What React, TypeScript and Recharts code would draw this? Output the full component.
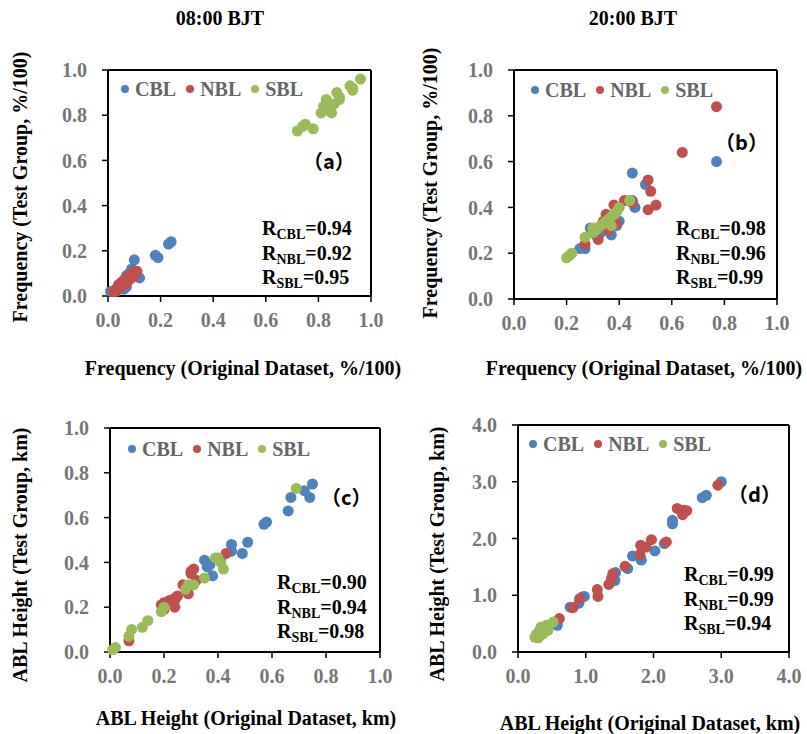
import React from "react";
import { ScatterChart, Scatter, XAxis, YAxis, Legend, ReferenceLine } from "recharts";

type Pt = [number, number];

const seriesNames = ["CBL", "NBL", "SBL"];
const seriesColors = ["#4F81BD", "#C0504D", "#9BBB59"];

const freqTicks = [0, 0.2, 0.4, 0.6, 0.8, 1.0];
const heightTicksD = [0, 1, 2, 3, 4];

// (a) 08:00 BJT frequency
const freq08Cbl: Pt[] = [
  [0.01, 0.02], [0.03, 0.03], [0.04, 0.03], [0.05, 0.04], [0.06, 0.03], [0.06, 0.05], [0.07, 0.04],
  [0.07, 0.06], [0.07, 0.09], [0.08, 0.10], [0.09, 0.12], [0.10, 0.16], [0.12, 0.08], [0.18, 0.18],
  [0.19, 0.17], [0.23, 0.23], [0.24, 0.24],
];
const freq08Nbl: Pt[] = [
  [0.02, 0.02], [0.03, 0.02], [0.03, 0.03], [0.04, 0.04], [0.04, 0.05], [0.05, 0.04], [0.05, 0.06],
  [0.06, 0.05], [0.06, 0.07], [0.07, 0.06], [0.07, 0.08], [0.08, 0.07], [0.08, 0.09], [0.09, 0.08],
  [0.09, 0.10], [0.10, 0.11], [0.11, 0.11], [0.10, 0.09],
];
const freq08Sbl: Pt[] = [
  [0.72, 0.73], [0.74, 0.75], [0.75, 0.76], [0.78, 0.74], [0.81, 0.81], [0.83, 0.87], [0.82, 0.84],
  [0.84, 0.82], [0.85, 0.81], [0.87, 0.90], [0.88, 0.88], [0.86, 0.85], [0.88, 0.87], [0.92, 0.93],
  [0.93, 0.91], [0.93, 0.92], [0.96, 0.96],
];

// (b) 20:00 BJT frequency
const freq20Cbl: Pt[] = [
  [0.77, 0.60], [0.45, 0.55], [0.50, 0.50], [0.46, 0.40], [0.45, 0.43], [0.40, 0.34], [0.39, 0.32],
  [0.37, 0.28], [0.29, 0.31], [0.31, 0.28], [0.30, 0.30], [0.27, 0.22], [0.25, 0.22], [0.33, 0.29],
  [0.35, 0.32], [0.36, 0.35],
];
const freq20Nbl: Pt[] = [
  [0.77, 0.84], [0.64, 0.64], [0.51, 0.52], [0.52, 0.47], [0.54, 0.41], [0.51, 0.39], [0.42, 0.43],
  [0.44, 0.43], [0.45, 0.42], [0.38, 0.41], [0.35, 0.37], [0.34, 0.34], [0.36, 0.30], [0.39, 0.33],
  [0.33, 0.32], [0.32, 0.26], [0.27, 0.24], [0.37, 0.36],
];
const freq20Sbl: Pt[] = [
  [0.44, 0.43], [0.40, 0.40], [0.39, 0.38], [0.38, 0.37], [0.37, 0.36], [0.36, 0.35], [0.35, 0.34],
  [0.34, 0.33], [0.33, 0.32], [0.32, 0.31], [0.31, 0.30], [0.30, 0.31], [0.37, 0.32], [0.27, 0.27],
  [0.22, 0.20], [0.20, 0.18], [0.21, 0.19], [0.30, 0.29],
];

// (c) 08:00 BJT ABL height
const abl08Cbl: Pt[] = [
  [0.75, 0.75], [0.72, 0.72], [0.74, 0.69], [0.67, 0.69], [0.66, 0.63], [0.58, 0.58], [0.57, 0.57],
  [0.51, 0.49], [0.49, 0.44], [0.45, 0.48], [0.45, 0.45], [0.35, 0.41], [0.36, 0.38], [0.38, 0.34],
  [0.41, 0.41], [0.24, 0.23], [0.37, 0.39],
];
const abl08Nbl: Pt[] = [
  [0.43, 0.44], [0.31, 0.37], [0.30, 0.35], [0.32, 0.32], [0.29, 0.26], [0.27, 0.30], [0.25, 0.25],
  [0.24, 0.24], [0.22, 0.23], [0.20, 0.22], [0.19, 0.21], [0.20, 0.19], [0.24, 0.20], [0.07, 0.05],
  [0.30, 0.36],
];
const abl08Sbl: Pt[] = [
  [0.69, 0.73], [0.40, 0.42], [0.39, 0.42], [0.41, 0.40], [0.42, 0.37], [0.35, 0.33], [0.31, 0.30],
  [0.29, 0.30], [0.28, 0.28], [0.19, 0.18], [0.20, 0.20], [0.14, 0.14], [0.12, 0.11], [0.08, 0.10],
  [0.07, 0.07], [0.02, 0.02], [0.01, 0.01],
];

// (d) 20:00 BJT ABL height
const abl20Cbl: Pt[] = [
  [3.00, 3.00], [2.78, 2.76], [2.72, 2.72], [2.28, 2.32], [2.28, 2.26], [2.16, 1.91], [2.02, 1.78],
  [1.81, 1.65], [1.69, 1.69], [1.62, 1.47], [1.44, 1.40], [1.43, 1.26], [0.95, 0.97], [0.98, 0.98],
  [0.90, 0.86], [0.77, 0.79], [0.58, 0.47], [1.82, 1.62],
];
const abl20Nbl: Pt[] = [
  [2.95, 2.94], [2.35, 2.53], [2.44, 2.50], [2.49, 2.49], [2.43, 2.42], [1.97, 1.98], [2.19, 1.94],
  [1.81, 1.88], [1.89, 1.85], [1.80, 1.72], [1.58, 1.51], [1.40, 1.38], [1.34, 1.19], [1.17, 1.10],
  [1.18, 0.98], [0.91, 0.94], [0.81, 0.78], [0.61, 0.59], [1.38, 1.30],
];
const abl20Sbl: Pt[] = [
  [0.52, 0.53], [0.42, 0.47], [0.34, 0.44], [0.32, 0.38], [0.27, 0.31], [0.25, 0.26], [0.30, 0.25],
  [0.37, 0.32], [0.44, 0.38], [0.29, 0.27], [0.35, 0.35], [0.40, 0.42],
];

const rA = ["0.94", "0.92", "0.95"];
const rB = ["0.98", "0.96", "0.99"];
const rC = ["0.90", "0.94", "0.98"];
const rD = ["0.99", "0.99", "0.94"];

const SERIF = '"Liberation Serif", "Times New Roman", serif';
const GRAY = "#767676";

const tickStyle = { fill: GRAY, fontSize: 20, fontWeight: 700, fontFamily: SERIF };

const renderLegend = () => (
  <div style={{ display: "flex", alignItems: "center" }}>
    {seriesNames.map((name, i) => (
      <span key={name} style={{ display: "flex", alignItems: "center", marginRight: 10 }}>
        <span style={{ width: 8, height: 8, borderRadius: "50%", background: seriesColors[i], marginRight: 6 }} />
        <span style={{ color: "#666", fontFamily: SERIF, fontWeight: 700, fontSize: 20, lineHeight: "20px" }}>{name}</span>
      </span>
    ))}
  </div>
);

// dot marker, a bit larger than the default symbol
const dot = (color: string) => (props: any) => <circle cx={props.cx} cy={props.cy} r={5.5} fill={color} />;

interface PanelProps {
  left: number;
  top: number;
  width: number;
  height: number;
  margin: { top: number; right: number; bottom: number; left: number };
  max: number;
  ticks: number[];
  series: Pt[][];
  legendPos: { left: number; top: number };
}

function Panel({ left, top, width, height, margin, max, ticks, series, legendPos }: PanelProps) {
  return (
    <div style={{ position: "absolute", left, top }}>
      <ScatterChart width={width} height={height} margin={margin}>
        <XAxis
          type="number"
          dataKey="x"
          domain={[0, max]}
          ticks={ticks}
          tickFormatter={(v: number) => v.toFixed(1)}
          axisLine={{ stroke: "#000", strokeWidth: 2 }}
          tickLine={{ stroke: "#000", strokeWidth: 1.5 }}
          tickSize={6}
          tickMargin={11}
          tick={tickStyle}
          height={40}
          interval={0}
        />
        <YAxis
          type="number"
          dataKey="y"
          domain={[0, max]}
          ticks={ticks}
          tickFormatter={(v: number) => v.toFixed(1)}
          axisLine={{ stroke: "#000", strokeWidth: 2 }}
          tickLine={{ stroke: "#000", strokeWidth: 1.5 }}
          tickSize={6}
          tickMargin={15}
          tick={tickStyle}
          width={60}
          interval={0}
        />
        <ReferenceLine y={max} stroke="#000" strokeWidth={2} />
        <ReferenceLine x={max} stroke="#000" strokeWidth={2} />
        <Legend
          content={renderLegend}
          layout="horizontal"
          verticalAlign="middle"
          align="center"
          wrapperStyle={{ left: legendPos.left, top: legendPos.top, width: "auto" }}
        />
        {series.map((pts, i) => (
          <Scatter
            key={seriesNames[i]}
            name={seriesNames[i]}
            data={pts.map(([x, y]) => ({ x, y }))}
            fill={seriesColors[i]}
            shape={dot(seriesColors[i])}
            isAnimationActive={false}
          />
        ))}
      </ScatterChart>
    </div>
  );
}

function RText({ left, top, values }: { left: number; top: number; values: string[] }) {
  return (
    <div style={{ position: "absolute", left, top, fontFamily: SERIF, fontWeight: 700, fontSize: 20, lineHeight: "24.5px", color: "#000" }}>
      {seriesNames.map((name, i) => (
        <div key={name} style={{ whiteSpace: "nowrap" }}>
          R<span style={{ fontSize: 14, verticalAlign: "-4px", lineHeight: 0 }}>{name}</span>={values[i]}
        </div>
      ))}
    </div>
  );
}

function Tag({ left, top, text }: { left: number; top: number; text: string }) {
  return (
    <div style={{ position: "absolute", left, top, fontFamily: '"Noto Sans CJK SC", sans-serif', fontWeight: 700, fontSize: 20, lineHeight: "20px", color: "#000", whiteSpace: "nowrap" }}>
      {text}
    </div>
  );
}

function Title({ cx, cy, text, rotate }: { cx: number; cy: number; text: string; rotate?: boolean }) {
  return (
    <div
      style={{
        position: "absolute",
        left: cx,
        top: cy,
        transform: `translate(-50%, -50%)${rotate ? " rotate(-90deg)" : ""}`,
        fontFamily: SERIF,
        fontWeight: 700,
        fontSize: 20,
        lineHeight: "22px",
        whiteSpace: "nowrap",
        color: "#000",
      }}
    >
      {text}
    </div>
  );
}

export default function App() {
  return (
    <div style={{ position: "absolute", left: 0, top: 0, width: 807, height: 734, background: "#fff", overflow: "hidden" }}>
      <Title cx={220} cy={18} text="08:00 BJT" />
      <Title cx={633} cy={18} text="20:00 BJT" />

      <Panel
        left={0} top={0} width={400} height={380}
        margin={{ top: 70, right: 29, bottom: 44, left: 48 }}
        max={1} ticks={freqTicks}
        series={[freq08Cbl, freq08Nbl, freq08Sbl]}
        legendPos={{ left: 121, top: 79 }}
      />
      <Panel
        left={400} top={0} width={407} height={380}
        margin={{ top: 70, right: 30, bottom: 41, left: 54 }}
        max={1} ticks={freqTicks}
        series={[freq20Cbl, freq20Nbl, freq20Sbl]}
        legendPos={{ left: 131, top: 80 }}
      />
      <Panel
        left={0} top={380} width={400} height={354}
        margin={{ top: 48, right: 20, bottom: 42, left: 50 }}
        max={1} ticks={freqTicks}
        series={[abl08Cbl, abl08Nbl, abl08Sbl]}
        legendPos={{ left: 128, top: 59 }}
      />
      <Panel
        left={400} top={380} width={407} height={354}
        margin={{ top: 45, right: 18, bottom: 42, left: 58 }}
        max={4} ticks={heightTicksD}
        series={[abl20Cbl, abl20Nbl, abl20Sbl]}
        legendPos={{ left: 129, top: 54 }}
      />

      <Title cx={20} cy={187} text="Frequency (Test Group, %/100)" rotate />
      <Title cx={430} cy={183} text="Frequency (Test Group, %/100)" rotate />
      <Title cx={20} cy={555} text="ABL Height (Test Group, km)" rotate />
      <Title cx={437} cy={554} text="ABL Height (Test Group, km)" rotate />

      <Title cx={243} cy={368} text="Frequency (Original Dataset, %/100)" />
      <Title cx={644} cy={368} text="Frequency (Original Dataset, %/100)" />
      <Title cx={246} cy={718} text="ABL Height (Original Dataset, km)" />
      <Title cx={650} cy={723} text="ABL Height (Original Dataset, km)" />

      <RText left={262} top={216} values={rA} />
      <RText left={676} top={216} values={rB} />
      <RText left={277} top={570} values={rC} />
      <RText left={684} top={562} values={rD} />

      <Tag left={303} top={151} text="（a）" />
      <Tag left={715} top={132} text="（b）" />
      <Tag left={321} top={487} text="（c）" />
      <Tag left={728} top={484} text="（d）" />
    </div>
  );
}
